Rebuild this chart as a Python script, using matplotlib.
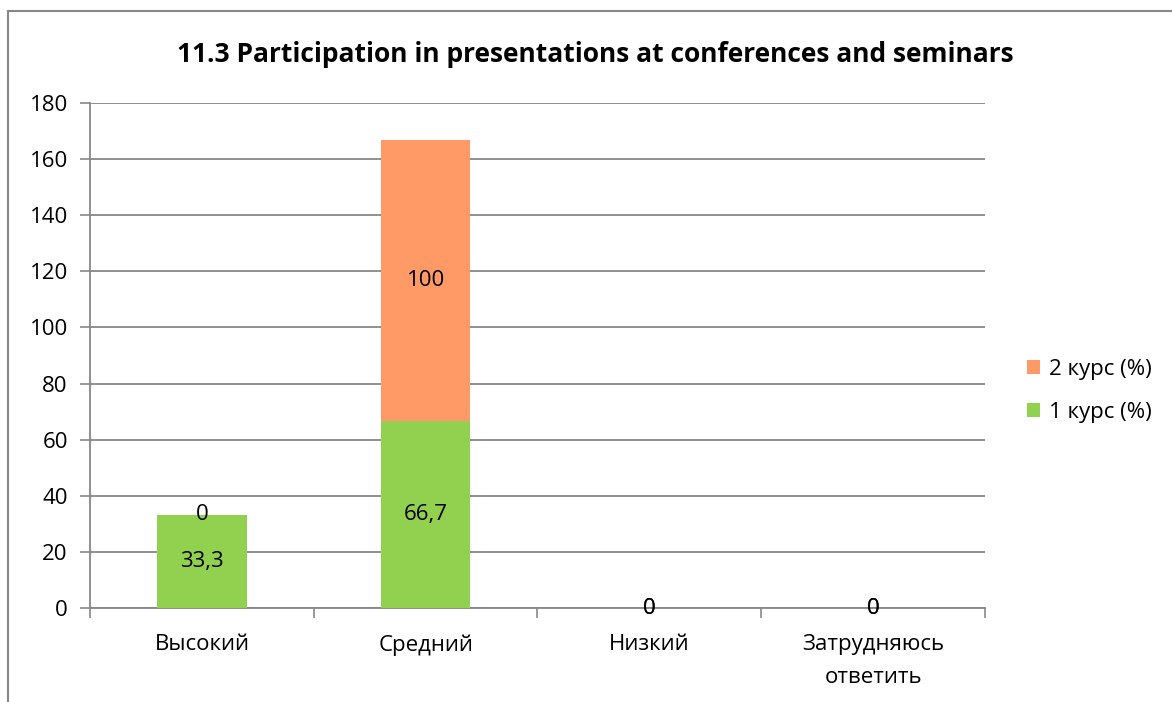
import matplotlib.pyplot as plt
import numpy as np
from matplotlib.lines import Line2D

plt.rcParams['font.family'] = ['Open Sans', 'DejaVu Sans']

categories = ['Высокий', 'Средний', 'Низкий', 'Затрудняюсь\nответить']
course1 = [33.3, 66.7, 0, 0]
course2 = [0, 100, 0, 0]
labels1 = ['33,3', '66,7', '0', '0']
labels2 = ['0', '100', '0', '0']

green = '#92D050'
orange = '#FF9966'
grid = '#878787'
fs = 16

fig = plt.figure(figsize=(11.72, 7.02), dpi=100)
ax = fig.add_axes([0.0768, 0.1339, 0.7636, 0.7194])

x = np.arange(len(categories))
b1 = ax.bar(x, course1, width=0.4, color=green, label='1 курс (%)', zorder=3)
b2 = ax.bar(x, course2, width=0.4, bottom=course1, color=orange, label='2 курс (%)', zorder=3)

ax.bar_label(b1, labels=labels1, label_type='center', fontsize=fs, zorder=4)
ax.bar_label(b2, labels=labels2, label_type='center', fontsize=fs, zorder=4)

ax.set_xlim(-0.5, 3.5)
ax.set_ylim(0, 180)
ax.set_yticks(range(0, 181, 20))
ax.yaxis.grid(True, color=grid, linewidth=1.3, zorder=0)
ax.tick_params(axis='y', labelsize=fs, length=7, color=grid, width=1.2, pad=9)

ax.set_xticks(x)
ax.set_xticklabels(categories, fontsize=fs, linespacing=1.7)
ax.set_xticks(np.arange(-0.5, 4, 1), minor=True)
ax.tick_params(axis='x', which='major', length=0, pad=19)
ax.tick_params(axis='x', which='minor', length=7, color=grid, width=1.2)

for s in ['top', 'right']:
    ax.spines[s].set_visible(False)
for s in ['left', 'bottom']:
    ax.spines[s].set_color(grid)
    ax.spines[s].set_linewidth(1.3)

fig.text(0.508, 0.922, '11.3 Participation in presentations at conferences and seminars',
         ha='center', va='center', fontsize=19, fontweight='bold')

handles, lbls = ax.get_legend_handles_labels()
fig.legend(handles[::-1], lbls[::-1], loc='center left', bbox_to_anchor=(0.876, 0.443),
           frameon=False, fontsize=fs, handlelength=0.6, handleheight=0.6,
           handletextpad=0.4, labelspacing=1.0, borderpad=0, borderaxespad=0)

# outer chart frame (left and top edges only visible)
fig.add_artist(Line2D([0.0068, 0.0068], [0.0, 0.985], color=grid, linewidth=1.5))
fig.add_artist(Line2D([0.0068, 1.0], [0.985, 0.985], color=grid, linewidth=1.5))

fig.savefig('out.png', dpi=100)
